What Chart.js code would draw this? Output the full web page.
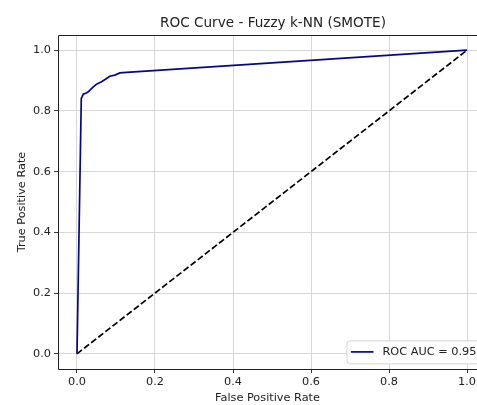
<!DOCTYPE html>
<html>
<head>
<meta charset="utf-8">
<script src="https://cdn.jsdelivr.net/npm/chart.js@4.4.0/dist/chart.umd.min.js"></script>
<style>
  html, body { margin: 0; padding: 0; background: #fff; overflow: hidden; }
  canvas { display: block; }
</style>
</head>
<body>
<canvas id="roc" width="477" height="405"></canvas>
<script>
// ROC curve points
const FPR = [0, 0.011, 0.013, 0.016, 0.025, 0.029, 0.035, 0.042, 0.050, 0.063, 0.076, 0.084, 0.097, 0.110, 0.127, 1.0];
const TPR = [0, 0.841, 0.846, 0.855, 0.860, 0.863, 0.871, 0.879, 0.888, 0.896, 0.907, 0.914, 0.918, 0.925, 0.927, 1.0];
const CHANCE_X = [0, 1];
const CHANCE_Y = [0, 1];
const X_TICKS = [0, 0.2, 0.4, 0.6, 0.8, 1.0];
const Y_TICKS = [0, 0.2, 0.4, 0.6, 0.8, 1.0];
const TITLE = "ROC Curve - Fuzzy k-NN (SMOTE)";
const AUC_LABEL = "ROC AUC = 0.95";

const INK = "#222";
const FONT = "DejaVu Sans";
Chart.defaults.font.family = FONT;
Chart.defaults.font.size = 11.3;
Chart.defaults.color = INK;

// the axes in the reference run a little past the right edge of the picture,
// so the x range is cut there and the right spine is not drawn
const X_MIN = -0.0487, X_MAX = 1.0256;
const AXES_CENTER = 273;

const frame = {
  id: "frame",
  afterDatasetsDraw(chart) {
    const a = chart.chartArea, ctx = chart.ctx;
    const l = Math.round(a.left) + 0.5, t = Math.round(a.top) + 0.5, b = Math.round(a.bottom) + 0.5;
    ctx.save();
    ctx.strokeStyle = INK;
    ctx.lineWidth = 1;
    ctx.beginPath();
    ctx.moveTo(chart.width, t);
    ctx.lineTo(l, t);
    ctx.lineTo(l, b);
    ctx.lineTo(chart.width, b);
    ctx.stroke();
    ctx.font = "13.6px " + FONT;
    ctx.fillStyle = INK;
    ctx.textAlign = "center";
    ctx.textBaseline = "middle";
    ctx.fillText(TITLE, AXES_CENTER, 23);
    ctx.restore();
  }
};

// legend in the lower right corner, inside the axes
const cornerLegend = {
  id: "cornerLegend",
  afterDraw(chart) {
    const a = chart.chartArea, ctx = chart.ctx;
    const ds = chart.data.datasets[0];
    ctx.save();
    ctx.font = "11.3px " + FONT;
    const tw = ctx.measureText(ds.label).width;
    const pad = 4.5, handle = 22.6, gap = 9, h = 23;
    const w = pad + handle + gap + tw + pad;
    const right = chart.scales.x.getPixelForValue(1.05) - 5.6, bottom = a.bottom - 5.6;
    const left = right - w, top = bottom - h;
    ctx.beginPath();
    ctx.roundRect(left + 0.5, top + 0.5, w, h, 3);
    ctx.fillStyle = "rgba(255,255,255,0.8)";
    ctx.fill();
    ctx.strokeStyle = "#d5d5d5";
    ctx.lineWidth = 1;
    ctx.stroke();
    const cy = top + h / 2;
    ctx.beginPath();
    ctx.moveTo(left + pad, cy);
    ctx.lineTo(left + pad + handle, cy);
    ctx.strokeStyle = ds.borderColor;
    ctx.lineWidth = ds.borderWidth;
    ctx.stroke();
    ctx.fillStyle = INK;
    ctx.textBaseline = "middle";
    ctx.fillText(ds.label, left + pad + handle + gap, cy + 0.5);
    ctx.restore();
  }
};

const gridStyle = { color: "#d2d2d2", lineWidth: 0.9, tickLength: 4, tickColor: INK, tickWidth: 0.9 };

new Chart(document.getElementById("roc"), {
  type: "scatter",
  data: {
    datasets: [
      {
        label: AUC_LABEL,
        data: FPR.map((x, i) => ({ x, y: TPR[i] })),
        showLine: true,
        borderColor: "#06068a",
        borderWidth: 1.7,
        pointRadius: 0,
        tension: 0
      },
      {
        label: "chance",
        data: CHANCE_X.map((x, i) => ({ x, y: CHANCE_Y[i] })),
        showLine: true,
        borderColor: "#000",
        borderWidth: 1.7,
        borderDash: [6.3, 2.7],
        pointRadius: 0
      }
    ]
  },
  options: {
    responsive: false,
    animation: false,
    layout: { padding: { left: 0, right: 0, top: 35, bottom: 0 } },
    plugins: {
      legend: { display: false },
      tooltip: { enabled: false },
      title: { display: false }
    },
    scales: {
      x: {
        type: "linear",
        min: X_MIN,
        max: X_MAX,
        afterBuildTicks: s => { s.ticks = X_TICKS.map(v => ({ value: v })); },
        afterFit: s => { s.height = 36; s.paddingRight = 0; },
        ticks: { callback: v => v.toFixed(1), padding: 2, maxRotation: 0 },
        grid: gridStyle,
        border: { display: false },
        title: { display: true, text: "False Positive Rate", padding: { top: 0, bottom: 0 } }
      },
      y: {
        type: "linear",
        min: -0.05,
        max: 1.05,
        afterBuildTicks: s => { s.ticks = Y_TICKS.map(v => ({ value: v })); },
        afterFit: s => { s.width = 58; },
        ticks: { callback: v => v.toFixed(1), padding: 3 },
        grid: gridStyle,
        border: { display: false },
        title: { display: true, text: "True Positive Rate", padding: { top: 15, bottom: 0 } }
      }
    }
  },
  plugins: [frame, cornerLegend]
});
</script>
</body>
</html>
